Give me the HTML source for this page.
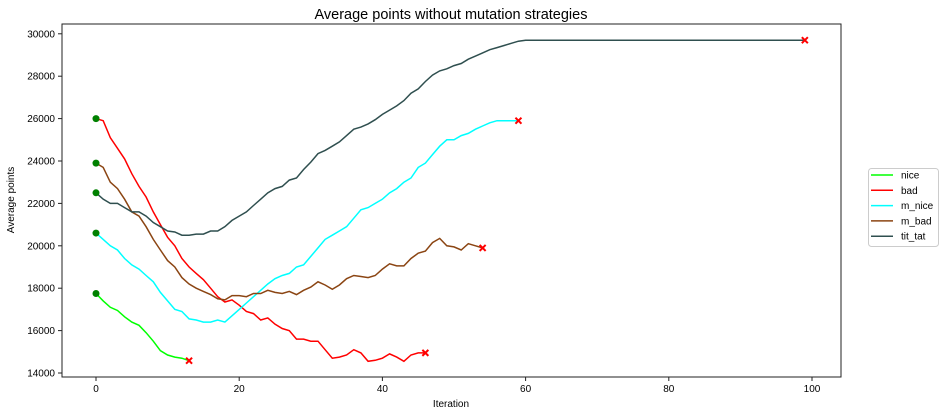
<!DOCTYPE html>
<html><head><meta charset="utf-8"><style>
body{margin:0;background:#fff;font-family:"Liberation Sans",sans-serif;}
svg text{font-family:"Liberation Sans",sans-serif;}
</style></head><body>
<svg id="chart" width="944" height="415" xmlns="http://www.w3.org/2000/svg">
<rect width="944" height="415" fill="#fff"/>
<text x="451" y="19" font-size="14.5" text-anchor="middle">Average points without mutation strategies</text>
<g id="grid"></g>
<g id="series"></g>
<rect x="62" y="24" width="779" height="353" fill="none" stroke="#222" stroke-width="1"/>
<text x="451" y="407" font-size="10" text-anchor="middle">Iteration</text>
<text transform="translate(14,200) rotate(-90)" font-size="10" text-anchor="middle">Average points</text>
<g id="legend">
<rect x="868.5" y="168.5" width="70" height="78" rx="3" fill="#fff" stroke="#ccc"/>
</g>
</svg>
<script>
const xTicks=[0,20,40,60,80,100];
const yTicks=[14000,16000,18000,20000,22000,24000,26000,28000,30000];
const seriesNames=["nice","bad","m_nice","m_bad","tit_tat"];
const seriesColors=["#00ff00","#ff0000","#00ffff","#8b4513","#2f4f4f"];
const nice=[17750,17400,17100,16950,16650,16400,16250,15900,15500,15050,14850,14750,14700,14580];
const bad=[26000,25900,25100,24600,24100,23400,22800,22300,21600,21000,20400,20000,19400,19000,18700,18400,18000,17600,17350,17450,17200,16900,16800,16500,16600,16300,16100,16000,15600,15600,15500,15500,15100,14700,14750,14850,15100,14950,14550,14600,14700,14900,14750,14550,14850,14950,14950];
const mNice=[20600,20300,20000,19800,19400,19100,18900,18600,18300,17800,17400,17000,16900,16550,16500,16400,16400,16500,16400,16700,17000,17300,17600,17900,18200,18450,18600,18700,19000,19100,19500,19900,20300,20500,20700,20900,21300,21700,21800,22000,22200,22500,22700,23000,23200,23700,23900,24300,24700,25000,25000,25200,25300,25500,25650,25800,25900,25900,25900,25900];
const mBad=[23900,23700,23000,22700,22200,21600,21400,20900,20300,19800,19300,19000,18500,18200,18000,17850,17700,17500,17450,17650,17650,17600,17750,17750,17900,17800,17750,17850,17700,17900,18050,18300,18150,17950,18150,18450,18600,18550,18500,18600,18900,19150,19050,19050,19400,19650,19750,20150,20350,20000,19950,19800,20100,20000,19900];
const titTat=[22500,22200,22000,22000,21800,21600,21600,21400,21100,20900,20700,20650,20500,20500,20550,20550,20700,20700,20900,21200,21400,21600,21900,22200,22500,22700,22800,23100,23200,23600,23950,24350,24500,24700,24900,25200,25500,25600,25750,25950,26200,26400,26600,26850,27200,27400,27750,28050,28250,28350,28500,28600,28800,28950,29100,29250,29350,29450,29550,29650,29700,29700,29700,29700,29700,29700,29700,29700,29700,29700,29700,29700,29700,29700,29700,29700,29700,29700,29700,29700,29700,29700,29700,29700,29700,29700,29700,29700,29700,29700,29700,29700,29700,29700,29700,29700,29700,29700,29700,29700];

const NS="http://www.w3.org/2000/svg";
const X=v=>96+v*7.16;
const Y=v=>373-(v-14000)*0.0212;
function mk(t,a,p){const e=document.createElementNS(NS,t);for(const k in a)e.setAttribute(k,a[k]);p.appendChild(e);return e;}
const grid=document.getElementById('grid');
xTicks.forEach(t=>{
  const l=mk('line',{x1:X(t),x2:X(t),y1:377,y2:381,stroke:'#222'},grid);
  
  
  const tx=mk('text',{x:X(t),y:392,'font-size':10,'text-anchor':'middle'},grid);
  tx.textContent=t;
  
  
});
yTicks.forEach(t=>{
  const l=mk('line',{x1:58,x2:62,y1:Y(t),y2:Y(t),stroke:'#222'},grid);
  
  
  const tx=mk('text',{x:55,y:Y(t)+3.5,'font-size':10,'text-anchor':'end'},grid);
  tx.textContent=t;
  
  
});
const g=document.getElementById('series');
const data=[nice,bad,mNice,mBad,titTat];
data.forEach((arr,si)=>{
  const pts=arr.map((v,i)=>X(i).toFixed(1)+','+Y(v).toFixed(1)).join(' ');
  const p=mk('polyline',{points:pts,fill:'none',stroke:seriesColors[si],'stroke-width':1.5},g);
  
  
  const c=mk('circle',{cx:X(0),cy:Y(arr[0]),r:3.5,fill:'#008000'},g);
  
  
  const n=arr.length-1,ex=X(n),ey=Y(arr[n]);
  const m=mk('path',{d:`M${ex-3},${ey-3}L${ex+3},${ey+3}M${ex-3},${ey+3}L${ex+3},${ey-3}`,stroke:'#ff0000','stroke-width':2},g);
  
  
});
const lg=document.getElementById('legend');
seriesNames.forEach((nm,i)=>{
  const y=175+i*15.3;
  const l=mk('line',{x1:871,x2:893,y1:y,y2:y,stroke:seriesColors[i],'stroke-width':1.5},lg);
  
  
  const t=mk('text',{x:901,y:y+3.5,'font-size':10},lg);
  t.textContent=nm;
  
  
});
</script>
</body></html>
